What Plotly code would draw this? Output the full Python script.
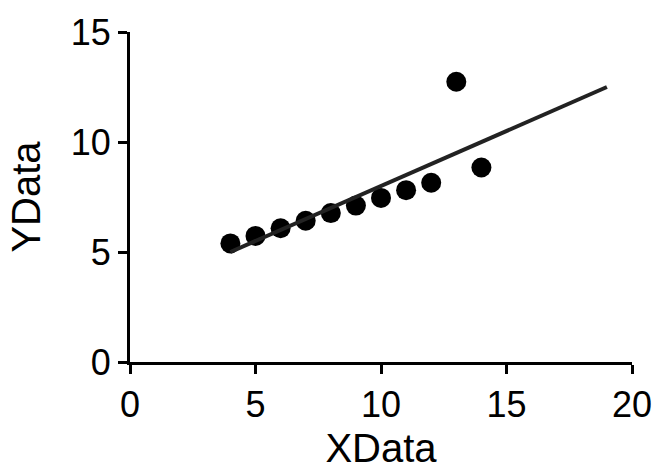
import plotly.graph_objects as go

x_data = [10, 8, 13, 9, 11, 14, 6, 4, 12, 7, 5]
y_data = [7.46, 6.77, 12.74, 7.11, 7.81, 8.84, 6.08, 5.39, 8.15, 6.42, 5.73]
fit_x = [4, 19]
fit_intercept = 3.0
fit_slope = 0.5
fit_y = [fit_intercept + fit_slope * v for v in fit_x]

fig = go.Figure()
fig.add_trace(go.Scatter(x=x_data, y=y_data, mode="markers",
                         marker=dict(size=20, color="black"), showlegend=False))
fig.add_trace(go.Scatter(x=fit_x, y=fit_y, mode="lines",
                         line=dict(color="#222222", width=4), showlegend=False))

font = "Liberation Sans, Arial, sans-serif"
fig.update_layout(
    width=664, height=476,
    margin=dict(l=130, r=32, t=26, b=114),
    plot_bgcolor="white", paper_bgcolor="white",
    font=dict(family=font, color="black", size=36),
    xaxis=dict(range=[0, 20], tickvals=[0, 5, 10, 15, 20], showgrid=False, zeroline=False,
               showline=True, linecolor="black", linewidth=3,
               ticks="outside", ticklen=9, tickwidth=3, tickcolor="black",
               tickfont=dict(size=36), title=dict(text="XData", font=dict(size=40), standoff=10)),
    yaxis=dict(range=[0, 15], tickvals=[0, 5, 10, 15], showgrid=False, zeroline=False,
               showline=True, linecolor="black", linewidth=3,
               ticks="outside", ticklen=9, tickwidth=3, tickcolor="black",
               tickfont=dict(size=36), title=dict(text="YData", font=dict(size=40), standoff=18)),
)
fig.write_html("out.html")
